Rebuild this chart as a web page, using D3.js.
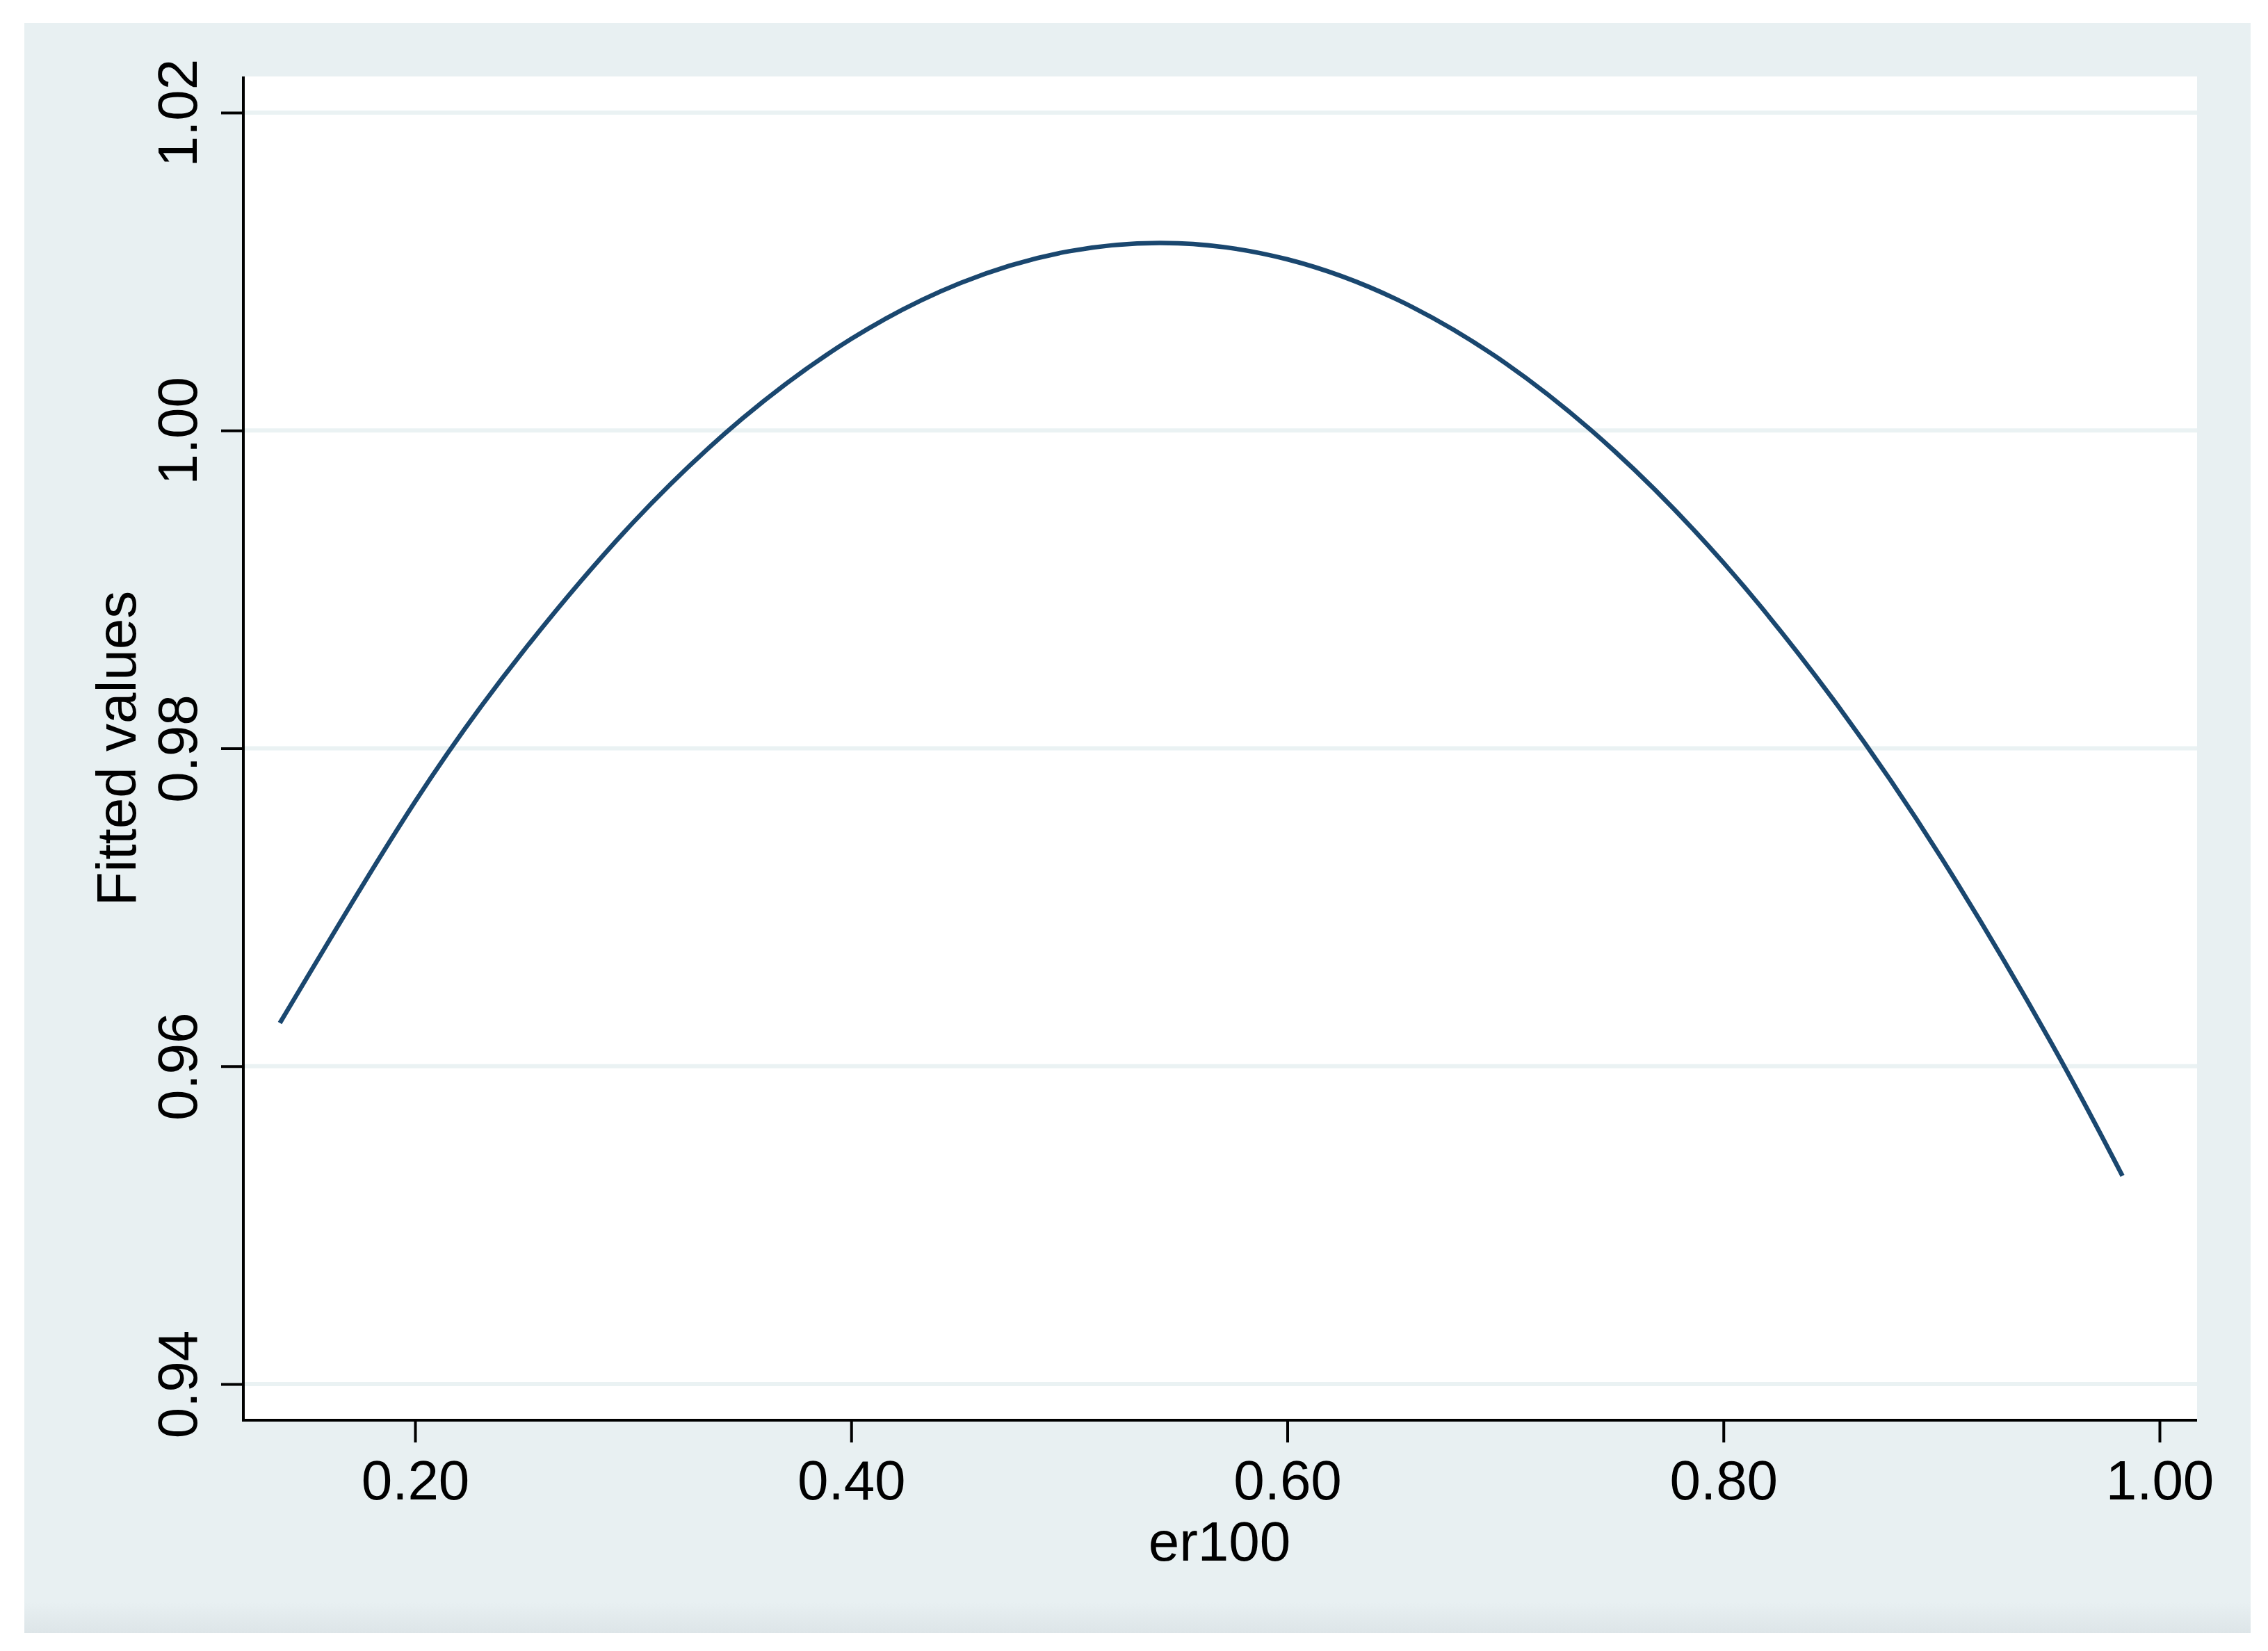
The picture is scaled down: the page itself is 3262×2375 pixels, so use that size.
<!DOCTYPE html>
<html>

<head>
  <title>Fitted values</title>
  <script src="https://cdn.jsdelivr.net/npm/d3@7"></script>
  <style>
    body { margin: 0; background: #ffffff; }
    text { font-family: "Liberation Sans", Arial, Helvetica, sans-serif; }
  </style>
</head>

<body>
  <svg width="3262" height="2375" id="mainsvg"></svg>
  <script>
    // values
    const xTicks = [0.20, 0.40, 0.60, 0.80, 1.00];
    const yTicks = [0.94, 0.96, 0.98, 1.00, 1.02];
    const erValues = [0.138, 0.20, 0.25, 0.30, 0.35, 0.40, 0.45, 0.50, 0.55, 0.60, 0.65, 0.70, 0.75, 0.80, 0.85, 0.90, 0.95, 0.983];
    const fittedValues = [0.96272, 0.97664, 0.98618, 0.99421, 1.00074, 1.00576, 1.00927, 1.01128, 1.01178, 1.01077, 1.00826, 1.00424, 0.99871, 0.99168, 0.98314, 0.97310, 0.96155, 0.95310];
    const xAxisLabel = 'er100';
    const yAxisLabel = 'Fitted values';

    const svg = d3.select('#mainsvg');
    const panel = { left: 35, top: 33, right: 3237, bottom: 2349 };
    const plot = { left: 350, top: 110, right: 3160, bottom: 2043 };

    const xScale = d3.scaleLinear().domain([0.2, 1.0]).range([597, 3106]);
    const yScale = d3.scaleLinear().domain([0.94, 1.02]).range([1991, 162]);

    // outer graph region with a faint shade at the bottom
    const defs = svg.append('defs');
    const grad = defs.append('linearGradient').attr('id', 'shade')
      .attr('x1', 0).attr('y1', 0).attr('x2', 0).attr('y2', 1);
    grad.append('stop').attr('offset', '0%').attr('stop-color', '#e8f0f2');
    grad.append('stop').attr('offset', '100%').attr('stop-color', '#dde5e8');

    svg.append('rect')
      .attr('x', panel.left).attr('y', panel.top)
      .attr('width', panel.right - panel.left).attr('height', panel.bottom - panel.top)
      .attr('fill', '#e8f0f2');
    svg.append('rect')
      .attr('x', panel.left).attr('y', panel.bottom - 45)
      .attr('width', panel.right - panel.left).attr('height', 45)
      .attr('fill', 'url(#shade)');

    // plot region
    svg.append('rect')
      .attr('x', plot.left).attr('y', plot.top)
      .attr('width', plot.right - plot.left).attr('height', plot.bottom - plot.top)
      .attr('fill', '#ffffff');

    // gridlines
    svg.append('g').selectAll('line').data(yTicks).join('line')
      .attr('x1', plot.left).attr('x2', plot.right)
      .attr('y1', d => yScale(d)).attr('y2', d => yScale(d))
      .attr('stroke', '#eaf2f3').attr('stroke-width', 6);

    // fitted curve
    const pts = erValues.map((x, i) => [x, fittedValues[i]]);
    const line = d3.line()
      .x(d => xScale(d[0]))
      .y(d => yScale(d[1]))
      .curve(d3.curveNatural);
    svg.append('path').datum(pts)
      .attr('d', line)
      .attr('fill', 'none')
      .attr('stroke', '#1a476f')
      .attr('stroke-width', 6.5);

    // y axis
    const yAxis = d3.axisLeft(yScale).tickValues(yTicks)
      .tickSize(32).tickFormat(d3.format('.2f'));
    const yAxisGroup = svg.append('g').attr('transform', `translate(${plot.left}, 0)`).call(yAxis);
    yAxisGroup.select('.domain').remove();
    yAxisGroup.selectAll('.tick line').attr('stroke', '#000').attr('stroke-width', 4);
    yAxisGroup.selectAll('.tick text')
      .attr('x', null).attr('dy', null)
      .attr('transform', 'translate(-67, 0) rotate(-90)')
      .attr('text-anchor', 'middle')
      .attr('font-size', 80)
      .attr('fill', '#000');
    svg.append('line')
      .attr('x1', plot.left).attr('x2', plot.left)
      .attr('y1', plot.top).attr('y2', plot.bottom + 2)
      .attr('stroke', '#000').attr('stroke-width', 4);
    svg.append('text')
      .attr('transform', `translate(195, ${(plot.top + plot.bottom) / 2}) rotate(-90)`)
      .attr('text-anchor', 'middle')
      .attr('font-size', 80)
      .attr('fill', '#000')
      .text(yAxisLabel);

    // x axis
    const xAxis = d3.axisBottom(xScale).tickValues(xTicks)
      .tickSize(32).tickPadding(20).tickFormat(d3.format('.2f'));
    const xAxisGroup = svg.append('g').attr('transform', `translate(0, ${plot.bottom})`).call(xAxis);
    xAxisGroup.select('.domain').remove();
    xAxisGroup.selectAll('.tick line').attr('stroke', '#000').attr('stroke-width', 4);
    xAxisGroup.selectAll('.tick text')
      .attr('y', 114).attr('dy', null)
      .attr('font-size', 80)
      .attr('fill', '#000');
    svg.append('line')
      .attr('x1', plot.left - 2).attr('x2', plot.right)
      .attr('y1', plot.bottom).attr('y2', plot.bottom)
      .attr('stroke', '#000').attr('stroke-width', 4);
    svg.append('text')
      .attr('x', (plot.left + plot.right) / 2 - 1)
      .attr('y', 2245)
      .attr('text-anchor', 'middle')
      .attr('font-size', 80)
      .attr('fill', '#000')
      .text(xAxisLabel);
  </script>
</body>

</html>
